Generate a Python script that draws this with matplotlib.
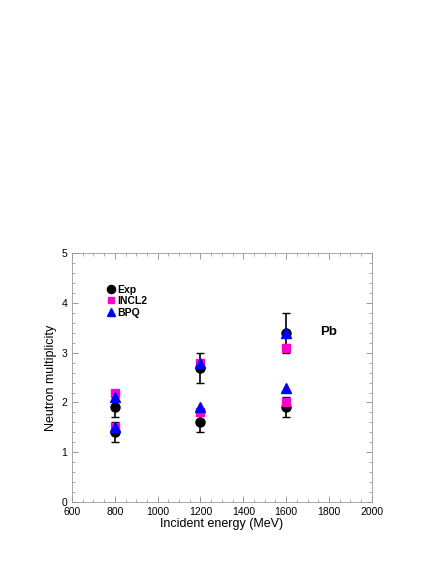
import matplotlib

matplotlib.use("Agg")

import matplotlib.pyplot as plt
from matplotlib.ticker import MultipleLocator

plt.rcParams["font.family"] = ["Liberation Sans", "DejaVu Sans"]

energy = [800, 800, 1200, 1200, 1600, 1600]
exp_vals = [1.9, 1.4, 2.7, 1.6, 3.4, 1.9]
exp_err = [0.2, 0.2, 0.3, 0.2, 0.4, 0.2]
incl2_vals = [2.2, 1.5, 2.8, 1.8, 3.1, 2.0]
bpq_vals = [2.1, 1.5, 2.8, 1.9, 3.4, 2.3]

fig = plt.figure(figsize=(4.36, 5.64), dpi=100)
ax = fig.add_axes([0.165, 0.110, 0.688, 0.441])

ax.errorbar(energy, exp_vals, yerr=exp_err, fmt="none", ecolor="black",
            elinewidth=1.2, capsize=3, capthick=1, zorder=2)
h_exp, = ax.plot(energy, exp_vals, "o", color="black", markersize=6.5,
                 label="Exp", zorder=3)
h_incl, = ax.plot(energy, incl2_vals, "s", color="#ff00cc", markersize=5.5,
                  label="INCL2", zorder=4)
h_bpq, = ax.plot(energy, bpq_vals, "^", color="#0000ff", markersize=6.5,
                 label="BPQ", zorder=5)

ax.text(1760, 3.35, "Pb", fontsize=9.5, fontweight="bold")

ax.set_xlim(600, 2000)
ax.set_ylim(0, 5)
ax.xaxis.set_major_locator(MultipleLocator(200))
ax.xaxis.set_minor_locator(MultipleLocator(50))
ax.yaxis.set_major_locator(MultipleLocator(1))
ax.yaxis.set_minor_locator(MultipleLocator(0.2))
ax.tick_params(which="both", direction="in", top=True, right=True,
               colors="#888888", labelcolor="black", labelsize=7.5)
ax.tick_params(which="major", length=4, width=0.6)
ax.tick_params(which="minor", length=2, width=0.5)
for s in ax.spines.values():
    s.set_color("#999999")
    s.set_linewidth(0.6)

ax.set_xlabel("Incident energy (MeV)", fontsize=9, labelpad=1)
ax.set_ylabel("Neutron multiplicity", fontsize=9, labelpad=3)

ax.legend(handles=[h_exp, h_incl, h_bpq], loc="upper left",
          bbox_to_anchor=(0.095, 0.895), frameon=False,
          handletextpad=0.1, handlelength=1.0, labelspacing=0.15,
          borderpad=0, markerscale=0.9,
          prop={"weight": "bold", "size": 7.5})

plt.savefig("out.png", dpi=100)
